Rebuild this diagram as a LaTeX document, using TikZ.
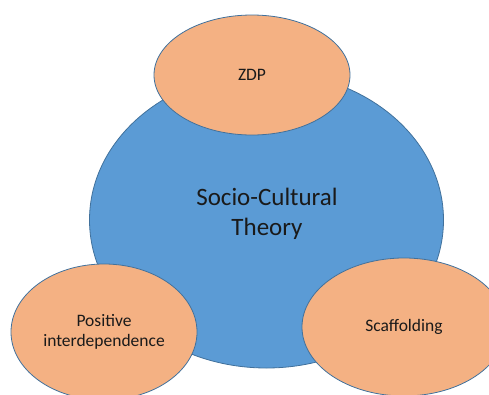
\documentclass[tikz,border=0pt]{standalone}
\usepackage{fontspec}
\setmainfont{Carlito}
\usetikzlibrary{shapes.geometric}
\definecolor{bigblue}{HTML}{5B9BD5}
\definecolor{edgeblue}{HTML}{41719C}
\definecolor{peach}{HTML}{F4B183}
\definecolor{txt}{HTML}{1A1A1A}
\begin{document}
\begin{tikzpicture}[x=1pt,y=-1pt,
  blob/.style={ellipse, draw=edgeblue, line width=0.8pt, inner sep=0pt, text=txt, align=center},
  bigblob/.style={blob, fill=bigblue},
  smallblob/.style={blob, fill=peach, font=\fontsize{17.5}{20}\selectfont}]
\useasboundingbox (0,0) rectangle (489,394);
\clip (0,0) rectangle (489,394);
\node[bigblob, minimum width=354pt, minimum height=296pt] (sct) at (266.5,220) {};
\node[font=\fontsize{25}{30}\selectfont, text=txt, align=center] (scttext) at (267,214) {Socio-Cultural\\Theory};
\node[smallblob, minimum width=196pt, minimum height=120pt] (zdp) at (252,75) {ZDP};
\node[smallblob, minimum width=186pt, minimum height=136pt] (pos) at (104,332) {Positive\\interdependence};
\node[smallblob, minimum width=204pt, minimum height=138pt] (scaf) at (404,327) {Scaffolding};
\end{tikzpicture}
\end{document}
